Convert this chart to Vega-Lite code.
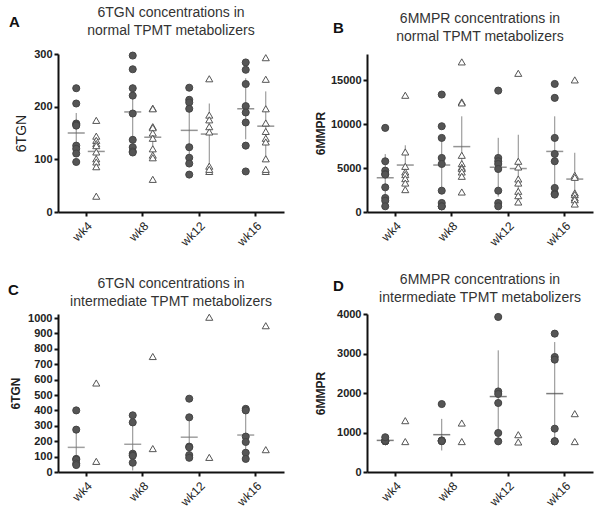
{
  "$schema": "https://vega.github.io/schema/vega-lite/v6.json",
  "background": "white",
  "padding": {"left": 8, "top": 6, "right": 2, "bottom": 2},
  "config": {
    "view": {"stroke": null},
    "font": "Liberation Sans",
    "axis": {"domainColor": "#111", "domainWidth": 2, "tickColor": "#111", "tickWidth": 2, "tickSize": 4, "grid": false, "labelColor": "#222", "titleColor": "#222", "labelFont": "Liberation Sans", "titleFont": "Liberation Sans", "labelOverlap": false},
    "title": {"font": "Liberation Sans", "fontSize": 14, "fontWeight": "normal", "color": "#333", "lineHeight": 18, "offset": 10, "anchor": "middle"}
  },
  "datasets": {
    "points": [
      {"panel":"A","week":"wk4","group":"g1","value":235},{"panel":"A","week":"wk4","group":"g1","value":206},{"panel":"A","week":"wk4","group":"g1","value":168},{"panel":"A","week":"wk4","group":"g1","value":166},{"panel":"A","week":"wk4","group":"g1","value":164},{"panel":"A","week":"wk4","group":"g1","value":126},{"panel":"A","week":"wk4","group":"g1","value":120},{"panel":"A","week":"wk4","group":"g1","value":111},{"panel":"A","week":"wk4","group":"g1","value":95},
      {"panel":"A","week":"wk8","group":"g1","value":297},{"panel":"A","week":"wk8","group":"g1","value":271},{"panel":"A","week":"wk8","group":"g1","value":235},{"panel":"A","week":"wk8","group":"g1","value":221},{"panel":"A","week":"wk8","group":"g1","value":187},{"panel":"A","week":"wk8","group":"g1","value":137},{"panel":"A","week":"wk8","group":"g1","value":123},{"panel":"A","week":"wk8","group":"g1","value":115},{"panel":"A","week":"wk8","group":"g1","value":113},
      {"panel":"A","week":"wk12","group":"g1","value":236},{"panel":"A","week":"wk12","group":"g1","value":213},{"panel":"A","week":"wk12","group":"g1","value":208},{"panel":"A","week":"wk12","group":"g1","value":196},{"panel":"A","week":"wk12","group":"g1","value":123},{"panel":"A","week":"wk12","group":"g1","value":103},{"panel":"A","week":"wk12","group":"g1","value":92},{"panel":"A","week":"wk12","group":"g1","value":71},
      {"panel":"A","week":"wk16","group":"g1","value":284},{"panel":"A","week":"wk16","group":"g1","value":270},{"panel":"A","week":"wk16","group":"g1","value":243},{"panel":"A","week":"wk16","group":"g1","value":201},{"panel":"A","week":"wk16","group":"g1","value":189},{"panel":"A","week":"wk16","group":"g1","value":170},{"panel":"A","week":"wk16","group":"g1","value":126},{"panel":"A","week":"wk16","group":"g1","value":77},
      {"panel":"A","week":"wk4","group":"g2","value":174},{"panel":"A","week":"wk4","group":"g2","value":144},{"panel":"A","week":"wk4","group":"g2","value":136},{"panel":"A","week":"wk4","group":"g2","value":130},{"panel":"A","week":"wk4","group":"g2","value":126},{"panel":"A","week":"wk4","group":"g2","value":114},{"panel":"A","week":"wk4","group":"g2","value":101},{"panel":"A","week":"wk4","group":"g2","value":95},{"panel":"A","week":"wk4","group":"g2","value":86},{"panel":"A","week":"wk4","group":"g2","value":30},
      {"panel":"A","week":"wk8","group":"g2","value":197},{"panel":"A","week":"wk8","group":"g2","value":196},{"panel":"A","week":"wk8","group":"g2","value":162},{"panel":"A","week":"wk8","group":"g2","value":160},{"panel":"A","week":"wk8","group":"g2","value":150},{"panel":"A","week":"wk8","group":"g2","value":140},{"panel":"A","week":"wk8","group":"g2","value":120},{"panel":"A","week":"wk8","group":"g2","value":108},{"panel":"A","week":"wk8","group":"g2","value":103},{"panel":"A","week":"wk8","group":"g2","value":62},
      {"panel":"A","week":"wk12","group":"g2","value":253},{"panel":"A","week":"wk12","group":"g2","value":184},{"panel":"A","week":"wk12","group":"g2","value":175},{"panel":"A","week":"wk12","group":"g2","value":162},{"panel":"A","week":"wk12","group":"g2","value":152},{"panel":"A","week":"wk12","group":"g2","value":87},{"panel":"A","week":"wk12","group":"g2","value":77},{"panel":"A","week":"wk12","group":"g2","value":81},
      {"panel":"A","week":"wk16","group":"g2","value":293},{"panel":"A","week":"wk16","group":"g2","value":252},{"panel":"A","week":"wk16","group":"g2","value":196},{"panel":"A","week":"wk16","group":"g2","value":169},{"panel":"A","week":"wk16","group":"g2","value":153},{"panel":"A","week":"wk16","group":"g2","value":140},{"panel":"A","week":"wk16","group":"g2","value":133},{"panel":"A","week":"wk16","group":"g2","value":101},{"panel":"A","week":"wk16","group":"g2","value":77},{"panel":"A","week":"wk16","group":"g2","value":81},
      {"panel":"B","week":"wk4","group":"g1","value":9580},{"panel":"B","week":"wk4","group":"g1","value":5780},{"panel":"B","week":"wk4","group":"g1","value":4710},{"panel":"B","week":"wk4","group":"g1","value":4330},{"panel":"B","week":"wk4","group":"g1","value":4260},{"panel":"B","week":"wk4","group":"g1","value":2810},{"panel":"B","week":"wk4","group":"g1","value":1600},{"panel":"B","week":"wk4","group":"g1","value":1290},{"panel":"B","week":"wk4","group":"g1","value":650},
      {"panel":"B","week":"wk8","group":"g1","value":13380},{"panel":"B","week":"wk8","group":"g1","value":9770},{"panel":"B","week":"wk8","group":"g1","value":8440},{"panel":"B","week":"wk8","group":"g1","value":6160},{"panel":"B","week":"wk8","group":"g1","value":5470},{"panel":"B","week":"wk8","group":"g1","value":2430},{"panel":"B","week":"wk8","group":"g1","value":1030},{"panel":"B","week":"wk8","group":"g1","value":650},{"panel":"B","week":"wk8","group":"g1","value":640},
      {"panel":"B","week":"wk12","group":"g1","value":13830},{"panel":"B","week":"wk12","group":"g1","value":6160},{"panel":"B","week":"wk12","group":"g1","value":5780},{"panel":"B","week":"wk12","group":"g1","value":5470},{"panel":"B","week":"wk12","group":"g1","value":4900},{"panel":"B","week":"wk12","group":"g1","value":2430},{"panel":"B","week":"wk12","group":"g1","value":1030},{"panel":"B","week":"wk12","group":"g1","value":650},
      {"panel":"B","week":"wk16","group":"g1","value":14590},{"panel":"B","week":"wk16","group":"g1","value":13000},{"panel":"B","week":"wk16","group":"g1","value":8440},{"panel":"B","week":"wk16","group":"g1","value":6610},{"panel":"B","week":"wk16","group":"g1","value":5780},{"panel":"B","week":"wk16","group":"g1","value":2740},{"panel":"B","week":"wk16","group":"g1","value":2090},{"panel":"B","week":"wk16","group":"g1","value":1980},
      {"panel":"B","week":"wk4","group":"g2","value":13300},{"panel":"B","week":"wk4","group":"g2","value":6840},{"panel":"B","week":"wk4","group":"g2","value":5200},{"panel":"B","week":"wk4","group":"g2","value":4560},{"panel":"B","week":"wk4","group":"g2","value":4260},{"panel":"B","week":"wk4","group":"g2","value":3800},{"panel":"B","week":"wk4","group":"g2","value":3300},{"panel":"B","week":"wk4","group":"g2","value":2550},
      {"panel":"B","week":"wk8","group":"g2","value":17100},{"panel":"B","week":"wk8","group":"g2","value":12540},{"panel":"B","week":"wk8","group":"g2","value":12430},{"panel":"B","week":"wk8","group":"g2","value":6460},{"panel":"B","week":"wk8","group":"g2","value":5510},{"panel":"B","week":"wk8","group":"g2","value":5090},{"panel":"B","week":"wk8","group":"g2","value":4940},{"panel":"B","week":"wk8","group":"g2","value":4560},{"panel":"B","week":"wk8","group":"g2","value":4070},{"panel":"B","week":"wk8","group":"g2","value":2280},
      {"panel":"B","week":"wk12","group":"g2","value":15800},{"panel":"B","week":"wk12","group":"g2","value":5780},{"panel":"B","week":"wk12","group":"g2","value":5130},{"panel":"B","week":"wk12","group":"g2","value":3760},{"panel":"B","week":"wk12","group":"g2","value":3300},{"panel":"B","week":"wk12","group":"g2","value":2360},{"panel":"B","week":"wk12","group":"g2","value":1860},{"panel":"B","week":"wk12","group":"g2","value":1140},
      {"panel":"B","week":"wk16","group":"g2","value":15050},{"panel":"B","week":"wk16","group":"g2","value":4180},{"panel":"B","week":"wk16","group":"g2","value":3950},{"panel":"B","week":"wk16","group":"g2","value":2170},{"panel":"B","week":"wk16","group":"g2","value":1980},{"panel":"B","week":"wk16","group":"g2","value":1600},{"panel":"B","week":"wk16","group":"g2","value":1400},{"panel":"B","week":"wk16","group":"g2","value":910},
      {"panel":"C","week":"wk4","group":"g1","value":400},{"panel":"C","week":"wk4","group":"g1","value":275},{"panel":"C","week":"wk4","group":"g1","value":85},{"panel":"C","week":"wk4","group":"g1","value":80},{"panel":"C","week":"wk4","group":"g1","value":55},{"panel":"C","week":"wk4","group":"g1","value":45},
      {"panel":"C","week":"wk8","group":"g1","value":368},{"panel":"C","week":"wk8","group":"g1","value":322},{"panel":"C","week":"wk8","group":"g1","value":119},{"panel":"C","week":"wk8","group":"g1","value":110},{"panel":"C","week":"wk8","group":"g1","value":105},{"panel":"C","week":"wk8","group":"g1","value":60},
      {"panel":"C","week":"wk12","group":"g1","value":476},{"panel":"C","week":"wk12","group":"g1","value":355},{"panel":"C","week":"wk12","group":"g1","value":165},{"panel":"C","week":"wk12","group":"g1","value":160},{"panel":"C","week":"wk12","group":"g1","value":110},{"panel":"C","week":"wk12","group":"g1","value":92},
      {"panel":"C","week":"wk16","group":"g1","value":410},{"panel":"C","week":"wk16","group":"g1","value":400},{"panel":"C","week":"wk16","group":"g1","value":230},{"panel":"C","week":"wk16","group":"g1","value":195},{"panel":"C","week":"wk16","group":"g1","value":125},{"panel":"C","week":"wk16","group":"g1","value":85},
      {"panel":"C","week":"wk4","group":"g2","value":578},{"panel":"C","week":"wk4","group":"g2","value":69},
      {"panel":"C","week":"wk8","group":"g2","value":750},{"panel":"C","week":"wk8","group":"g2","value":152},
      {"panel":"C","week":"wk12","group":"g2","value":1005},{"panel":"C","week":"wk12","group":"g2","value":95},
      {"panel":"C","week":"wk16","group":"g2","value":950},{"panel":"C","week":"wk16","group":"g2","value":145},
      {"panel":"D","week":"wk4","group":"g1","value":780},{"panel":"D","week":"wk4","group":"g1","value":780},{"panel":"D","week":"wk4","group":"g1","value":785},{"panel":"D","week":"wk4","group":"g1","value":780},{"panel":"D","week":"wk4","group":"g1","value":790},{"panel":"D","week":"wk4","group":"g1","value":880},
      {"panel":"D","week":"wk8","group":"g1","value":1720},{"panel":"D","week":"wk8","group":"g1","value":800},{"panel":"D","week":"wk8","group":"g1","value":790},{"panel":"D","week":"wk8","group":"g1","value":780},{"panel":"D","week":"wk8","group":"g1","value":785},
      {"panel":"D","week":"wk12","group":"g1","value":3925},{"panel":"D","week":"wk12","group":"g1","value":2040},{"panel":"D","week":"wk12","group":"g1","value":1975},{"panel":"D","week":"wk12","group":"g1","value":1747},{"panel":"D","week":"wk12","group":"g1","value":988},{"panel":"D","week":"wk12","group":"g1","value":776},
      {"panel":"D","week":"wk16","group":"g1","value":3503},{"panel":"D","week":"wk16","group":"g1","value":2912},{"panel":"D","week":"wk16","group":"g1","value":2844},{"panel":"D","week":"wk16","group":"g1","value":1097},{"panel":"D","week":"wk16","group":"g1","value":776},{"panel":"D","week":"wk16","group":"g1","value":780},
      {"panel":"D","week":"wk4","group":"g2","value":1300},{"panel":"D","week":"wk4","group":"g2","value":770},
      {"panel":"D","week":"wk8","group":"g2","value":1240},{"panel":"D","week":"wk8","group":"g2","value":770},
      {"panel":"D","week":"wk12","group":"g2","value":945},{"panel":"D","week":"wk12","group":"g2","value":760},
      {"panel":"D","week":"wk16","group":"g2","value":1477},{"panel":"D","week":"wk16","group":"g2","value":770}
    ],
    "summary": [
      {"panel":"A","week":"wk4","group":"g1","mean":150,"lo":112,"hi":188},
      {"panel":"A","week":"wk8","group":"g1","mean":190,"lo":138,"hi":242},
      {"panel":"A","week":"wk12","group":"g1","mean":155,"lo":97,"hi":213},
      {"panel":"A","week":"wk16","group":"g1","mean":196,"lo":138,"hi":254},
      {"panel":"A","week":"wk4","group":"g2","mean":115,"lo":86,"hi":145},
      {"panel":"A","week":"wk8","group":"g2","mean":142,"lo":117,"hi":167},
      {"panel":"A","week":"wk12","group":"g2","mean":148,"lo":90,"hi":206},
      {"panel":"A","week":"wk16","group":"g2","mean":163,"lo":97,"hi":229},
      {"panel":"B","week":"wk4","group":"g1","mean":3900,"lo":1200,"hi":6600},
      {"panel":"B","week":"wk8","group":"g1","mean":5350,"lo":2300,"hi":8400},
      {"panel":"B","week":"wk12","group":"g1","mean":5100,"lo":1750,"hi":8450},
      {"panel":"B","week":"wk16","group":"g1","mean":6900,"lo":2900,"hi":10900},
      {"panel":"B","week":"wk4","group":"g2","mean":5350,"lo":3100,"hi":7600},
      {"panel":"B","week":"wk8","group":"g2","mean":7450,"lo":4000,"hi":10900},
      {"panel":"B","week":"wk12","group":"g2","mean":4950,"lo":1100,"hi":8800},
      {"panel":"B","week":"wk16","group":"g2","mean":3750,"lo":750,"hi":6750},
      {"panel":"C","week":"wk4","group":"g1","mean":160,"lo":50,"hi":270},
      {"panel":"C","week":"wk8","group":"g1","mean":180,"lo":10,"hi":350},
      {"panel":"C","week":"wk12","group":"g1","mean":226,"lo":80,"hi":375},
      {"panel":"C","week":"wk16","group":"g1","mean":240,"lo":100,"hi":382},
      {"panel":"D","week":"wk4","group":"g1","mean":800,"lo":760,"hi":840},
      {"panel":"D","week":"wk8","group":"g1","mean":945,"lo":545,"hi":1345},
      {"panel":"D","week":"wk12","group":"g1","mean":1910,"lo":740,"hi":3080},
      {"panel":"D","week":"wk16","group":"g1","mean":1985,"lo":680,"hi":3290}
    ]
  },
  "columns": 2,
  "spacing": {"row": 25, "column": 30},
  "concat": [
    {
      "title": {"text": "A", "anchor": "start", "frame": "bounds", "fontSize": 15, "fontWeight": "bold", "color": "#111", "dy": 24, "dx": -5, "offset": 0},
      "vconcat": [{
        "width": 226, "height": 158,
        "title": {"text": ["6TGN concentrations in", "normal TPMT metabolizers"]},
        "encoding": {
          "x": {"field": "week", "type": "nominal", "sort": ["wk4","wk8","wk12","wk16"], "scale": {"paddingInner": 0, "paddingOuter": 0}, "axis": {"title": null, "labelAngle": -45, "labelFontSize": 12, "labelPadding": 4}},
          "xOffset": {"field": "group", "type": "nominal", "scale": {"domain": ["g1","g2"], "paddingOuter": 0.41, "paddingInner": 0}}
        },
        "layer": [
          {"data": {"name": "summary"}, "transform": [{"filter": "datum.panel === 'A'"}],
           "mark": {"type": "rule", "color": "#8a8a8a", "strokeWidth": 1},
           "encoding": {"y": {"field": "lo", "type": "quantitative", "title": "6TGN", "scale": {"domain": [0, 300], "nice": false}, "axis": {"values": [0,100,200,300], "labelFontWeight": "bold", "labelFontSize": 11, "titleFontSize": 14, "titleFontWeight": "normal", "minExtent": 26, "maxExtent": 26, "titlePadding": 4}}, "y2": {"field": "hi"}}},
          {"data": {"name": "summary"}, "transform": [{"filter": "datum.panel === 'A'"}],
           "mark": {"type": "tick", "color": "#666", "thickness": 1.5, "size": 17},
           "encoding": {"y": {"field": "mean", "type": "quantitative", "title": "6TGN", "scale": {"domain": [0, 300], "nice": false}, "axis": {"values": [0,100,200,300], "labelFontWeight": "bold", "labelFontSize": 11, "titleFontSize": 14, "titleFontWeight": "normal", "minExtent": 26, "maxExtent": 26, "titlePadding": 4}}}},
          {"data": {"name": "points"}, "transform": [{"filter": "datum.panel === 'A'"}],
           "mark": {"type": "point", "size": 50, "strokeWidth": 1, "opacity": 1, "fillOpacity": 1},
           "encoding": {"y": {"field": "value", "type": "quantitative", "title": "6TGN", "scale": {"domain": [0, 300], "nice": false}, "axis": {"values": [0,100,200,300], "labelFontWeight": "bold", "labelFontSize": 11, "titleFontSize": 14, "titleFontWeight": "normal", "minExtent": 26, "maxExtent": 26, "titlePadding": 4}},
             "shape": {"field": "group", "type": "nominal", "scale": {"domain": ["g1","g2"], "range": ["circle","triangle-up"]}, "legend": null},
             "fill": {"field": "group", "type": "nominal", "scale": {"domain": ["g1","g2"], "range": ["#555555","#ffffff"]}, "legend": null},
             "stroke": {"field": "group", "type": "nominal", "scale": {"domain": ["g1","g2"], "range": ["#444444","#555555"]}, "legend": null}}}
        ]
      }]
    },
    {
      "title": {"text": "B", "anchor": "start", "frame": "bounds", "fontSize": 15, "fontWeight": "bold", "color": "#111", "dy": 24, "dx": 19, "offset": 0},
      "vconcat": [{
        "width": 226, "height": 158,
        "title": {"text": ["6MMPR concentrations in", "normal TPMT metabolizers"]},
        "encoding": {
          "x": {"field": "week", "type": "nominal", "sort": ["wk4","wk8","wk12","wk16"], "scale": {"paddingInner": 0, "paddingOuter": 0}, "axis": {"title": null, "labelAngle": -45, "labelFontSize": 12, "labelPadding": 4}},
          "xOffset": {"field": "group", "type": "nominal", "scale": {"domain": ["g1","g2"], "paddingOuter": 0.41, "paddingInner": 0}}
        },
        "layer": [
          {"data": {"name": "summary"}, "transform": [{"filter": "datum.panel === 'B'"}],
           "mark": {"type": "rule", "color": "#8a8a8a", "strokeWidth": 1},
           "encoding": {"y": {"field": "lo", "type": "quantitative", "title": "6MMPR", "scale": {"domain": [0, 18000], "nice": false}, "axis": {"values": [0,5000,10000,15000], "format": "d", "labelFontWeight": "bold", "labelFontSize": 11, "titleFontSize": 12, "titleFontWeight": "bold", "minExtent": 37, "maxExtent": 37, "titlePadding": 3}}, "y2": {"field": "hi"}}},
          {"data": {"name": "summary"}, "transform": [{"filter": "datum.panel === 'B'"}],
           "mark": {"type": "tick", "color": "#666", "thickness": 1.5, "size": 17},
           "encoding": {"y": {"field": "mean", "type": "quantitative", "title": "6MMPR", "scale": {"domain": [0, 18000], "nice": false}, "axis": {"values": [0,5000,10000,15000], "format": "d", "labelFontWeight": "bold", "labelFontSize": 11, "titleFontSize": 12, "titleFontWeight": "bold", "minExtent": 37, "maxExtent": 37, "titlePadding": 3}}}},
          {"data": {"name": "points"}, "transform": [{"filter": "datum.panel === 'B'"}],
           "mark": {"type": "point", "size": 50, "strokeWidth": 1, "opacity": 1, "fillOpacity": 1},
           "encoding": {"y": {"field": "value", "type": "quantitative", "title": "6MMPR", "scale": {"domain": [0, 18000], "nice": false}, "axis": {"values": [0,5000,10000,15000], "format": "d", "labelFontWeight": "bold", "labelFontSize": 11, "titleFontSize": 12, "titleFontWeight": "bold", "minExtent": 37, "maxExtent": 37, "titlePadding": 3}},
             "shape": {"field": "group", "type": "nominal", "scale": {"domain": ["g1","g2"], "range": ["circle","triangle-up"]}, "legend": null},
             "fill": {"field": "group", "type": "nominal", "scale": {"domain": ["g1","g2"], "range": ["#555555","#ffffff"]}, "legend": null},
             "stroke": {"field": "group", "type": "nominal", "scale": {"domain": ["g1","g2"], "range": ["#444444","#555555"]}, "legend": null}}}
        ]
      }]
    },
    {
      "title": {"text": "C", "anchor": "start", "frame": "bounds", "fontSize": 15, "fontWeight": "bold", "color": "#111", "dy": 21, "dx": -1, "offset": 0},
      "vconcat": [{
        "width": 226, "height": 158,
        "title": {"text": ["6TGN concentrations in", "intermediate TPMT metabolizers"], "offset": 3},
        "encoding": {
          "x": {"field": "week", "type": "nominal", "sort": ["wk4","wk8","wk12","wk16"], "scale": {"paddingInner": 0, "paddingOuter": 0}, "axis": {"title": null, "labelAngle": -45, "labelFontSize": 12, "labelPadding": 4}},
          "xOffset": {"field": "group", "type": "nominal", "scale": {"domain": ["g1","g2"], "paddingOuter": 0.41, "paddingInner": 0}}
        },
        "layer": [
          {"data": {"name": "summary"}, "transform": [{"filter": "datum.panel === 'C'"}],
           "mark": {"type": "rule", "color": "#8a8a8a", "strokeWidth": 1},
           "encoding": {"y": {"field": "lo", "type": "quantitative", "title": "6TGN", "scale": {"domain": [0, 1026], "nice": false}, "axis": {"values": [0,100,200,300,400,500,600,700,800,900,1000], "format": "d", "labelFontWeight": "bold", "labelFontSize": 11, "titleFontSize": 12, "titleFontWeight": "bold", "minExtent": 31, "maxExtent": 31, "titlePadding": 5}}, "y2": {"field": "hi"}}},
          {"data": {"name": "summary"}, "transform": [{"filter": "datum.panel === 'C'"}],
           "mark": {"type": "tick", "color": "#777", "thickness": 1.5, "size": 17},
           "encoding": {"y": {"field": "mean", "type": "quantitative", "title": "6TGN", "scale": {"domain": [0, 1026], "nice": false}, "axis": {"values": [0,100,200,300,400,500,600,700,800,900,1000], "format": "d", "labelFontWeight": "bold", "labelFontSize": 11, "titleFontSize": 12, "titleFontWeight": "bold", "minExtent": 31, "maxExtent": 31, "titlePadding": 5}}}},
          {"data": {"name": "points"}, "transform": [{"filter": "datum.panel === 'C'"}],
           "mark": {"type": "point", "size": 50, "strokeWidth": 1, "opacity": 1, "fillOpacity": 1},
           "encoding": {"y": {"field": "value", "type": "quantitative", "title": "6TGN", "scale": {"domain": [0, 1026], "nice": false}, "axis": {"values": [0,100,200,300,400,500,600,700,800,900,1000], "format": "d", "labelFontWeight": "bold", "labelFontSize": 11, "titleFontSize": 12, "titleFontWeight": "bold", "minExtent": 31, "maxExtent": 31, "titlePadding": 5}},
             "shape": {"field": "group", "type": "nominal", "scale": {"domain": ["g1","g2"], "range": ["circle","triangle-up"]}, "legend": null},
             "fill": {"field": "group", "type": "nominal", "scale": {"domain": ["g1","g2"], "range": ["#555555","#ffffff"]}, "legend": null},
             "stroke": {"field": "group", "type": "nominal", "scale": {"domain": ["g1","g2"], "range": ["#444444","#555555"]}, "legend": null}}}
        ]
      }]
    },
    {
      "title": {"text": "D", "anchor": "start", "frame": "bounds", "fontSize": 15, "fontWeight": "bold", "color": "#111", "dy": 21, "dx": 19, "offset": 0},
      "vconcat": [{
        "width": 226, "height": 158,
        "title": {"text": ["6MMPR concentrations in", "intermediate TPMT metabolizers"], "offset": 3},
        "encoding": {
          "x": {"field": "week", "type": "nominal", "sort": ["wk4","wk8","wk12","wk16"], "scale": {"paddingInner": 0, "paddingOuter": 0}, "axis": {"title": null, "labelAngle": -45, "labelFontSize": 12, "labelPadding": 4}},
          "xOffset": {"field": "group", "type": "nominal", "scale": {"domain": ["g1","g2"], "paddingOuter": 0.41, "paddingInner": 0}}
        },
        "layer": [
          {"data": {"name": "summary"}, "transform": [{"filter": "datum.panel === 'D'"}],
           "mark": {"type": "rule", "color": "#8a8a8a", "strokeWidth": 1},
           "encoding": {"y": {"field": "lo", "type": "quantitative", "title": "6MMPR", "scale": {"domain": [0, 4000], "nice": false}, "axis": {"values": [0,1000,2000,3000,4000], "format": "d", "labelFontWeight": "bold", "labelFontSize": 11, "titleFontSize": 12, "titleFontWeight": "bold", "minExtent": 33, "maxExtent": 33, "titlePadding": 7}}, "y2": {"field": "hi"}}},
          {"data": {"name": "summary"}, "transform": [{"filter": "datum.panel === 'D'"}],
           "mark": {"type": "tick", "color": "#444", "thickness": 1.5, "size": 17},
           "encoding": {"y": {"field": "mean", "type": "quantitative", "title": "6MMPR", "scale": {"domain": [0, 4000], "nice": false}, "axis": {"values": [0,1000,2000,3000,4000], "format": "d", "labelFontWeight": "bold", "labelFontSize": 11, "titleFontSize": 12, "titleFontWeight": "bold", "minExtent": 33, "maxExtent": 33, "titlePadding": 7}}}},
          {"data": {"name": "points"}, "transform": [{"filter": "datum.panel === 'D'"}],
           "mark": {"type": "point", "size": 50, "strokeWidth": 1, "opacity": 1, "fillOpacity": 1},
           "encoding": {"y": {"field": "value", "type": "quantitative", "title": "6MMPR", "scale": {"domain": [0, 4000], "nice": false}, "axis": {"values": [0,1000,2000,3000,4000], "format": "d", "labelFontWeight": "bold", "labelFontSize": 11, "titleFontSize": 12, "titleFontWeight": "bold", "minExtent": 33, "maxExtent": 33, "titlePadding": 7}},
             "shape": {"field": "group", "type": "nominal", "scale": {"domain": ["g1","g2"], "range": ["circle","triangle-up"]}, "legend": null},
             "fill": {"field": "group", "type": "nominal", "scale": {"domain": ["g1","g2"], "range": ["#555555","#ffffff"]}, "legend": null},
             "stroke": {"field": "group", "type": "nominal", "scale": {"domain": ["g1","g2"], "range": ["#444444","#555555"]}, "legend": null}}}
        ]
      }]
    }
  ]
}
